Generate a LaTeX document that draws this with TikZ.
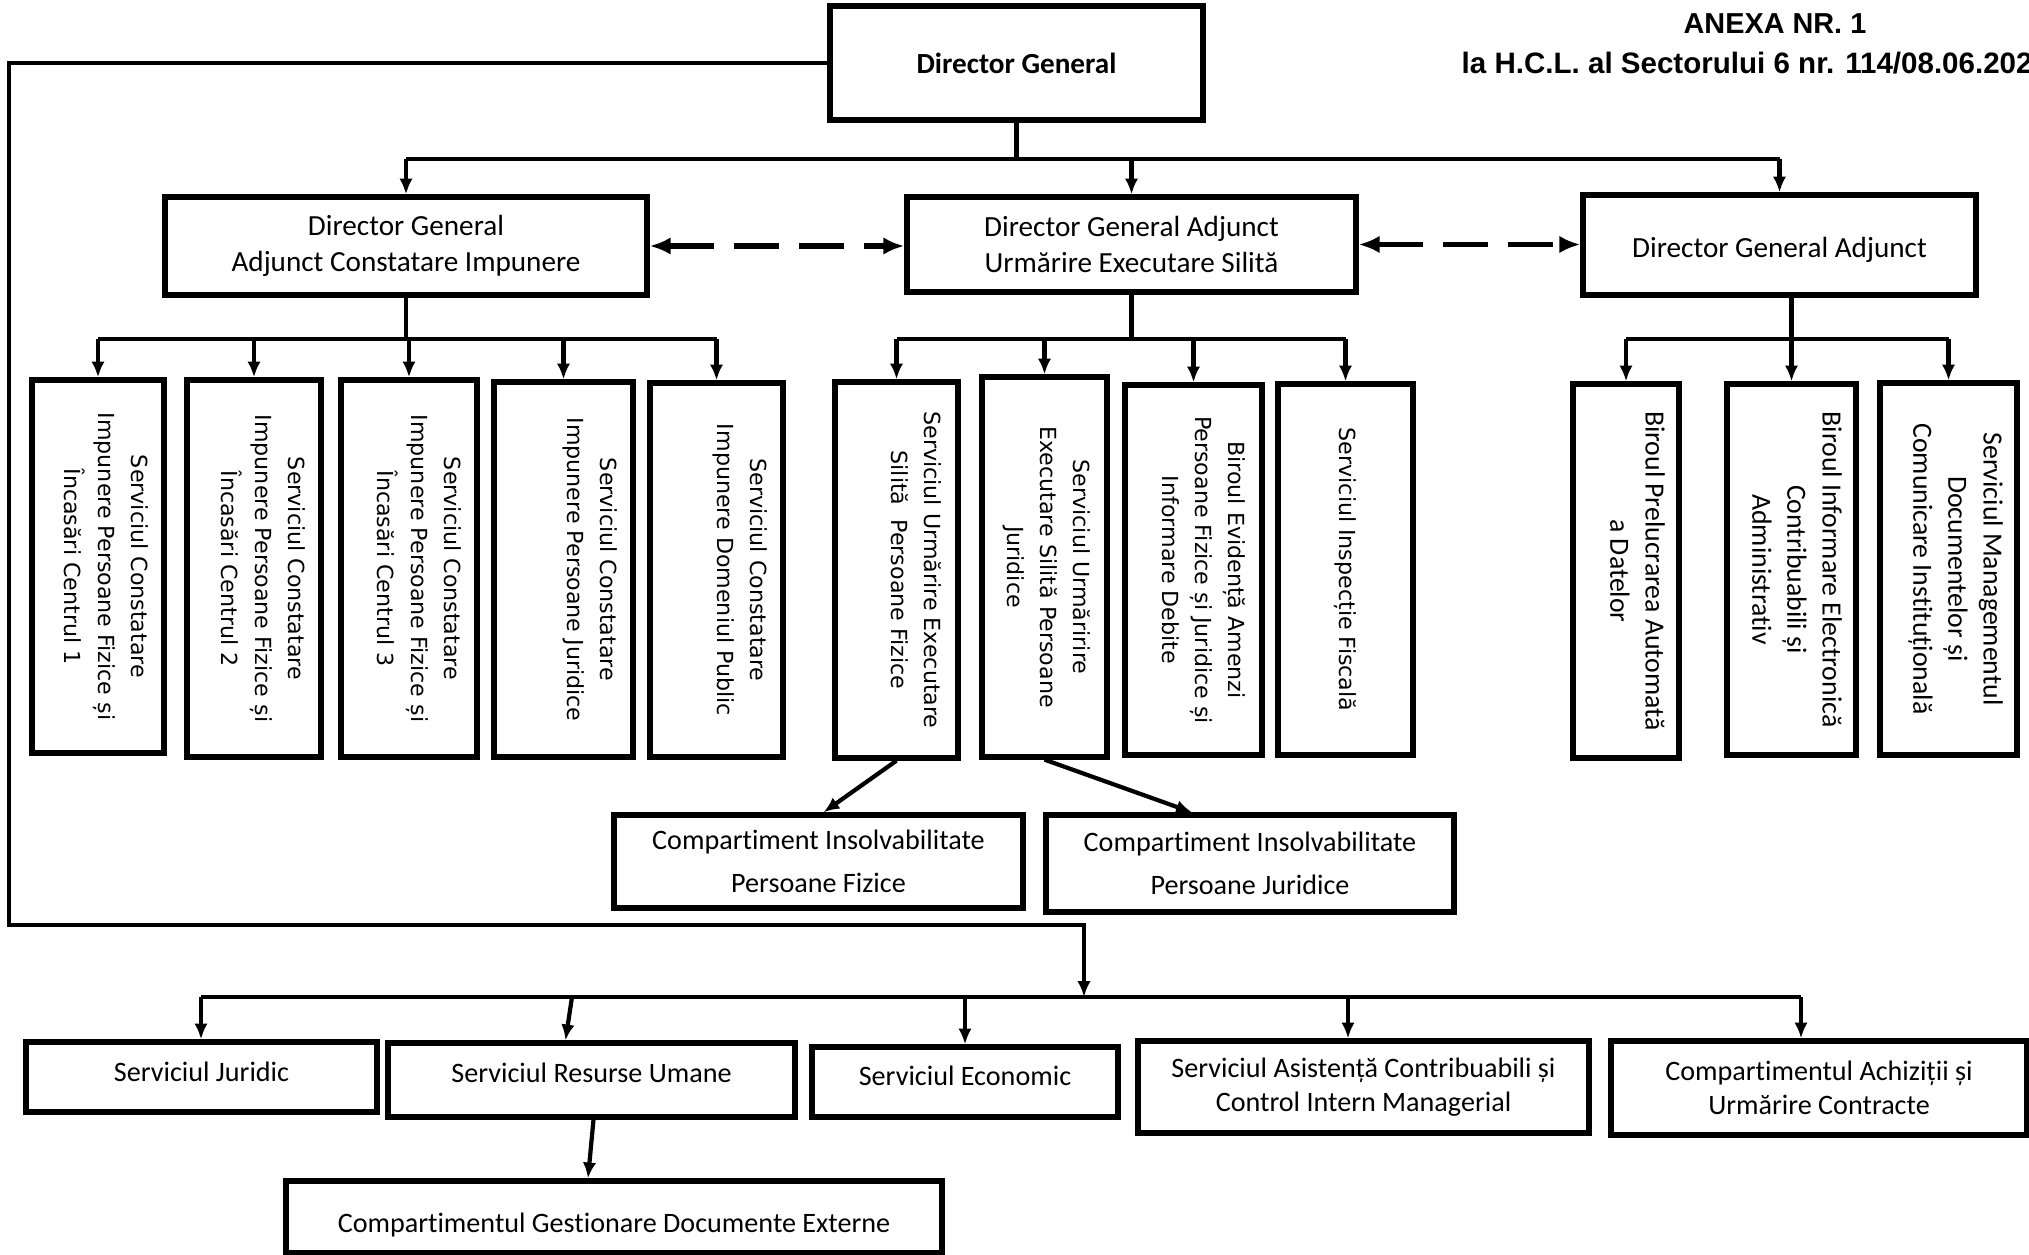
\documentclass[tikz,border=0pt]{standalone}
\usepackage{fontspec}
\setmainfont{Carlito}[Ligatures=NoCommon]
\newfontfamily\dejavu{DejaVu Sans}
\newfontfamily\hdrfont{Liberation Sans}
\usetikzlibrary{arrows.meta,calc}
\begin{document}
\begin{tikzpicture}[x=0.01cm, y=-0.01cm,
  box/.style={draw, line width=1.5pt, inner sep=0pt, align=center, font=\fontsize{8.3}{10.2}\selectfont},
  sbox/.style={box, font=\fontsize{8}{9.8}\selectfont},
  sz/.style 2 args={minimum width={#1*0.01cm}, minimum height={#2*0.01cm}},
  th/.style={text height=#1, text depth=0pt},
  conn/.style={line width=1.2pt},
  arr/.style={line width=1.2pt, -{Latex[length=4.5pt,width=3.8pt]}},
  darr/.style={line width=1.5pt, dash pattern=on 12.8pt off 5.7pt, {Latex[length=6pt,width=5pt]}-{Latex[length=6pt,width=5pt]}},
  vtA/.style={rotate=-90, anchor=north, inner sep=0pt, align=center, font=\dejavu\fontsize{6.3}{9.4}\selectfont},
  vtB/.style={rotate=-90, anchor=north, inner sep=0pt, align=center, font=\fontsize{7.9}{10}\selectfont},
]
\useasboundingbox (0,0) rectangle (2029,1255);

% header
\node[font=\hdrfont\bfseries\fontsize{8.2}{10}\selectfont, inner sep=0pt] (hdr1) at (1775,24) {ANEXA NR. 1};
\node[font=\hdrfont\bfseries\fontsize{8.4}{10}\selectfont, inner sep=0pt, anchor=west] (hdr2) at (1461,63) {la H.C.L. al Sectorului 6 nr. 114/08.06.202};

% top
\node[box, line width=1.8pt, sz={373}{114}, font=\bfseries\fontsize{8.3}{10}\selectfont] (dg) at (1016.5,63) {Director General};

\node[box, sz={482}{98}] (dgc) at (406,246) {Director General\\Adjunct Constatare Impunere};
\node[box, sz={449}{95}] (dgu) at (1131.5,244.5) {Director General Adjunct\\Urmărire Executare Silită};
\node[box, sz={393}{100}, th=7.2pt] (dgr) at (1779.5,245) {Director General Adjunct};

% level 3 boxes
\node[box, sz={132}{373}] (b1) at (98,566.5) {};
\node[box, sz={134}{377}] (b2) at (254,568.5) {};
\node[box, sz={136}{377}] (b3) at (409,568.5) {};
\node[box, sz={139}{375}] (b4) at (563.5,569.5) {};
\node[box, sz={133}{374}] (b5) at (716.5,570) {};
\node[box, sz={123}{376}] (b6) at (896.5,570) {};
\node[box, sz={125}{380}] (b7) at (1044.5,567) {};
\node[box, sz={137}{370}] (b8) at (1193.5,570) {};
\node[box, sz={135}{371}] (b9) at (1345.5,569.5) {};
\node[box, sz={106}{374}] (b10) at (1626,571) {};
\node[box, sz={129}{371}] (b11) at (1791.5,569.5) {};
\node[box, sz={137}{372}] (b12) at (1948.5,569) {};

\node[vtA] (t1) at ($(b1.east)+(-18,0)$) {Serviciul Constatare\\Impunere Persoane Fizice și\\Încasări Centrul 1};
\node[vtA] (t2) at ($(b2.east)+(-18,0)$) {Serviciul Constatare\\Impunere Persoane Fizice și\\Încasări Centrul 2};
\node[vtA] (t3) at ($(b3.east)+(-18,0)$) {Serviciul Constatare\\Impunere Persoane Fizice și\\Încasări Centrul 3};
\node[vtA] (t4) at ($(b4.east)+(-18,0)$) {Serviciul Constatare\\Impunere Persoane Juridice};
\node[vtA] (t5) at ($(b5.east)+(-18,0)$) {Serviciul Constatare\\Impunere Domeniul Public};
\node[vtA] (t6) at ($(b6.east)+(-18,0)$) {Serviciul Urmărire Executare\\Silită\ \ Persoane Fizice};
\node[vtA] (t7) at ($(b7.east)+(-18,0)$) {Serviciul Urmăririre\\Executare Silită Persoane\\Juridice};
\node[vtA] (t8) at ($(b8.east)+(-18,0)$) {Biroul Evidență Amenzi\\Persoane Fizice și Juridice și\\Informare Debite};
\node[vtA, anchor=center] (t9) at (b9.center) {Serviciul Inspecție Fiscală};
\node[vtB] (t10) at ($(b10.east)+(-16,0)$) {Biroul Prelucrarea Automată\\a Datelor};
\node[vtB] (t11) at ($(b11.east)+(-16,0)$) {Biroul Informare Electronică\\Contribuabili și\\Administrativ};
\node[vtB] (t12) at ($(b12.east)+(-16,0)$) {Serviciul Managementul\\Documentelor și\\Comunicare Instituțională};

% insolvency
\node[sbox, sz={409}{93}, font=\fontsize{8}{12.3}\selectfont] (cf) at (818.5,861.5) {Compartiment Insolvabilitate\\Persoane Fizice};
\node[sbox, sz={408}{97}, font=\fontsize{8}{12.3}\selectfont] (cj) at (1250,863.5) {Compartiment Insolvabilitate\\Persoane Juridice};

% bottom
\node[sbox, sz={351}{70}, th=2.6pt] (jur) at (201.5,1077) {Serviciul Juridic};
\node[sbox, sz={407}{74}, th=1.4pt] (hr) at (591.5,1080) {Serviciul Resurse Umane};
\node[sbox, sz={306}{70}, th=2pt] (eco) at (965,1082) {Serviciul Economic};
\node[sbox, sz={451}{92}] (as) at (1363.5,1087) {Serviciul Asistență Contribuabili și\\Control Intern Managerial};
\node[sbox, sz={416}{94}] (ac) at (1819,1088) {Compartimentul Achiziții și\\Urmărire Contracte};
\node[sbox, sz={656}{72}, th=8.6pt] (ge) at (614,1217) {Compartimentul Gestionare Documente Externe};

% connectors top
\coordinate (tj) at (1016.5,159);
\coordinate (tl) at (406,159);
\coordinate (tr) at (1779.5,159);
\draw[conn] (dg.south) -- (tj);
\draw[conn] (tl) -- (tr);
\draw[arr] (tl) -- (dgc.north);
\draw[arr] (tj -| dgu.north) -- (dgu.north);
\draw[arr] (tr) -- (dgr.north);

\draw[darr] (dgc.east) -- (dgc.east -| dgu.west);
\draw[darr] (dgu.east) -- (dgu.east -| dgr.west);

% level 3 connectors
\coordinate (l0) at (406,339);
\draw[conn] (dgc.south) -- (l0);
\draw[conn] (b1.north |- l0) -- (b5.north |- l0);
\foreach \i in {1,...,5} { \draw[arr] (b\i.north |- l0) -- (b\i.north); }
\draw[conn] (dgu.south) -- (dgu.south |- l0);
\draw[conn] (b6.north |- l0) -- (b9.north |- l0);
\foreach \i in {6,...,9} { \draw[arr] (b\i.north |- l0) -- (b\i.north); }
\draw[conn] (b11.north |- dgr.south) -- (b11.north |- l0);
\draw[conn] (b10.north |- l0) -- (b12.north |- l0);
\foreach \i in {10,11,12} { \draw[arr] (b\i.north |- l0) -- (b\i.north); }

\draw[arr] (b6.south) -- ($(cf.north)+(5,0)$);
\draw[arr] (b7.south) -- ($(cj.north)+(-58,0)$);

% left loop
\coordinate (L1) at (9,63);
\coordinate (L2) at (9,925);
\coordinate (L3) at (1084,925);
\coordinate (L4) at (1084,997);
\draw[arr] (dg.west) -- (L1) -- (L2) -- (L3) -- (L4);

% bottom bus
\coordinate (B1) at (201,997);
\coordinate (B2) at (1801,997);
\coordinate (B3) at (572,997);
\coordinate (B4) at (1348,997);
\draw[conn] (B1) -- (B2);
\draw[arr] (B1) -- (B1 |- jur.north);
\draw[arr] (B3) -- ($(hr.north)+(-26,0)$);
\draw[arr] (eco.north |- B1) -- (eco.north);
\draw[arr] (B4) -- (B4 |- as.north);
\draw[arr] (B2) -- (B2 |- ac.north);
\draw[arr] ($(hr.south)+(2,0)$) -- ($(ge.north)+(-26,0)$);
\end{tikzpicture}
\end{document}
